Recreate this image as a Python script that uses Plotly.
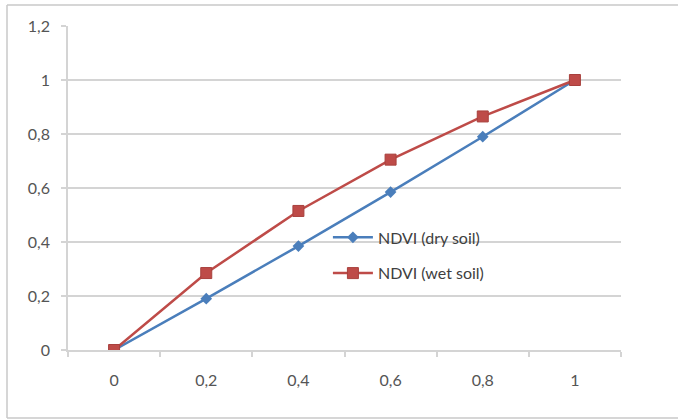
import plotly.graph_objects as go

# NDVI as a function of vegetation fraction, for dry and wet soil backgrounds
categories = ["0", "0,2", "0,4", "0,6", "0,8", "1"]
ndvi_dry = [0.0, 0.19, 0.385, 0.585, 0.79, 1.0]
ndvi_wet = [0.0, 0.285, 0.515, 0.705, 0.865, 1.0]

BLUE = "#4A7EBB"
RED = "#BE4B48"
GRID = "#d4d4d4"
TEXT = "#555555"
FONT = "Lato, 'Open Sans', sans-serif"

fig = go.Figure()
fig.add_trace(go.Scatter(
    x=categories, y=ndvi_dry, name="NDVI (dry soil)", mode="lines+markers",
    line=dict(color=BLUE, width=2.5),
    marker=dict(symbol="diamond", size=9, color=BLUE),
    legendgroup="dry",
))
fig.add_trace(go.Scatter(
    x=categories, y=ndvi_wet, name="NDVI (wet soil)", mode="lines+markers",
    line=dict(color=RED, width=2.5),
    marker=dict(symbol="square", size=11, color=RED, line=dict(color="#a8403d", width=1)),
    legendgroup="wet",
))

fig.update_layout(
    width=678, height=420,
    margin=dict(l=68, r=57, t=26, b=70),
    paper_bgcolor="white", plot_bgcolor="white",
    separators=", ",
    font=dict(family=FONT, size=16, color=TEXT),
    legend=dict(
        x=0.47, y=0.40, xanchor="left", yanchor="top",
        bgcolor="rgba(0,0,0,0)", font=dict(size=16, color="#404040"),
        traceorder="grouped", tracegroupgap=12, itemwidth=40,
    ),
    xaxis=dict(
        type="category", range=[-0.5, 5.5], tickson="boundaries",
        showgrid=False, showline=True, linecolor=GRID, linewidth=1.5,
        ticks="outside", ticklen=5, tickcolor=GRID, tickwidth=1.5,
        ticklabelstandoff=15,
        tickfont=dict(size=16, color=TEXT), fixedrange=True,
    ),
    yaxis=dict(
        range=[0, 1.2], dtick=0.2, tick0=0,
        showgrid=True, gridcolor=GRID, gridwidth=1.5, zeroline=False,
        showline=True, linecolor=GRID, linewidth=1.5,
        ticks="outside", ticklen=5, tickcolor=GRID, tickwidth=1.5,
        ticklabelstandoff=8,
        tickfont=dict(size=16, color=TEXT), fixedrange=True,
    ),
    shapes=[
        # outer chart frame (open on the right side)
        dict(type="line", xref="paper", yref="paper",
             x0=-61 / 553, x1=610 / 553, y0=345 / 324, y1=345 / 324,
             line=dict(color="#c8c8c8", width=1.5)),
        dict(type="line", xref="paper", yref="paper",
             x0=-61 / 553, x1=-61 / 553, y0=345 / 324, y1=-68 / 324,
             line=dict(color="#c8c8c8", width=1.5)),
        dict(type="line", xref="paper", yref="paper",
             x0=-61 / 553, x1=610 / 553, y0=-68 / 324, y1=-68 / 324,
             line=dict(color="#c8c8c8", width=1.5)),
    ],
)

fig.write_html("out.html")
